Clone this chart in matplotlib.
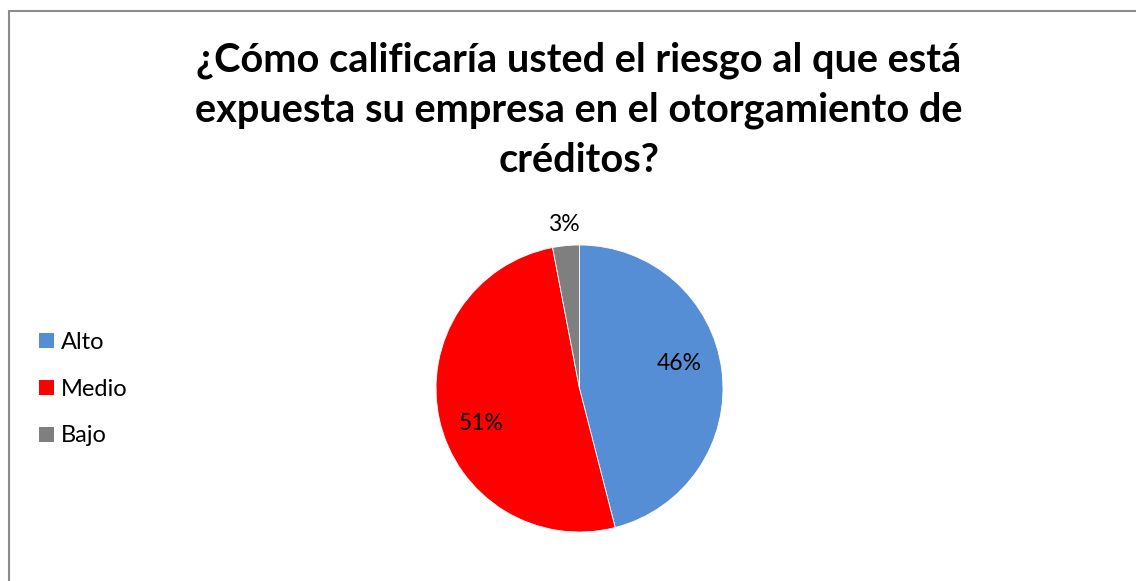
import matplotlib
matplotlib.use("Agg")
import matplotlib.pyplot as plt
from matplotlib.patches import Rectangle, Patch

categories = ["Alto", "Medio", "Bajo"]
values = [46, 51, 3]
colors = ["#558ED5", "#FF0000", "#7F7F7F"]
title = "¿Cómo calificaría usted el riesgo al que está\nexpuesta su empresa en el otorgamiento de\ncréditos?"

W, H = 1136, 581
fig = plt.figure(figsize=(W / 100, H / 100), dpi=100)
plt.rcParams["font.family"] = ["Lato", "DejaVu Sans"]

# chart frame (runs off the right and bottom edges)
fig.patches.append(Rectangle((9 / W, -0.05), 1.2, 1 - 11 / H + 0.05,
                             transform=fig.transFigure, fill=False,
                             edgecolor="#8C8C8C", linewidth=1.5))

fig.text(579 / W, 1 - 110 / H, title, ha="center", va="center",
         fontsize=28.6, fontweight="bold", linespacing=1.42)

# pie area
cx, cy, r = 579.5, 388.5, 143.5
ax = fig.add_axes([(cx - r) / W, (H - cy - r) / H, 2 * r / W, 2 * r / H])
wedges, texts, autotexts = ax.pie(
    values, colors=colors, startangle=90, counterclock=False,
    autopct=lambda p: f"{p:.0f}%", radius=1,
    wedgeprops=dict(edgecolor="white", linewidth=0.6),
    textprops=dict(fontsize=16.5, color="black"))
ax.set_xlim(-1, 1)
ax.set_ylim(-1, 1)
ax.set_aspect("equal")

# data-label placement
label_pos = [(0.693, 0.171), (-0.686, -0.247), (-0.108, 1.146)]
for t, (x, y) in zip(autotexts, label_pos):
    t.set_position((x, y))
    t.set_ha("center")
    t.set_va("center")

handles = [Patch(facecolor=c, edgecolor="none") for c in colors]
fig.legend(handles, categories, loc="center left",
           bbox_to_anchor=(39 / W, 1 - 389 / H), frameon=False,
           fontsize=17, labelspacing=1.1, handlelength=0.62,
           handleheight=0.62, handletextpad=0.3, borderpad=0,
           borderaxespad=0)

fig.savefig("out.png", dpi=100, facecolor="white")
